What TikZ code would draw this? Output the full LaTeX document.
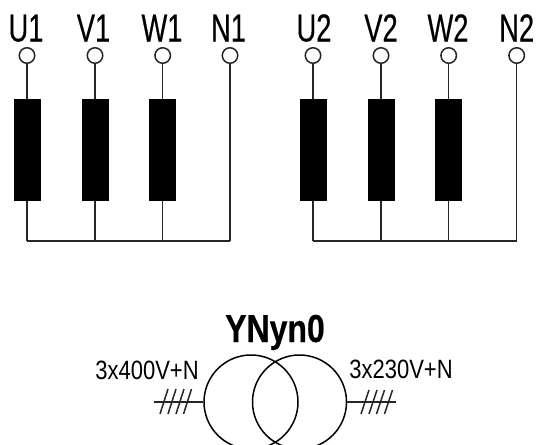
\documentclass[tikz,border=0pt]{standalone}
\usepackage{fontspec}
\setmainfont{Liberation Sans}
\newfontfamily\termfont{Liberation Sans}[FakeStretch=0.7,FakeBold=0.4]
\newfontfamily\ratefont{Liberation Sans}[FakeStretch=0.83]
\newfontfamily\titlefont{Liberation Sans Bold}[FakeStretch=0.82,FakeBold=0.5]
\begin{document}
\begin{tikzpicture}[x=1pt,y=-1pt,
  wire/.style={draw=black!85,line width=1.5pt},
  terminal/.style={circle,draw=black!85,fill=white,line width=1.5pt,minimum size=15.5pt,inner sep=0pt},
  winding/.style={rectangle,fill=black,minimum width=27pt,minimum height=101.5pt,inner sep=0pt},
  termlabel/.style={font=\fontsize{39}{39}\termfont,inner sep=0pt,anchor=base},
  ratelabel/.style={font=\fontsize{26.5}{26.5}\ratefont,inner sep=0pt,anchor=base},
  titlelabel/.style={font=\fontsize{39}{39}\titlefont,inner sep=0pt,anchor=base}]
\useasboundingbox (0,0) rectangle (539,445);
\foreach \n/\x/\lx/\lab in {a/27/26/U1,b/95/93.5/V1,c/162.7/162/W1,d/230/228.5/N1,e/313/314/U2,f/381/381/V2,g/448.7/448/W2,h/516.7/516.7/N2}{
  \node[terminal] (t\n) at (\x,55.5) {};
  \node[termlabel] (l\n) at (\lx,41.5) {\lab};
  \coordinate (bus\n) at (\x,241);
}
\foreach \n/\x in {a/27,b/95,c/162.7,e/313,f/381,g/448.7}{
  \node[winding] (w\n) at (\x,149.75) {};
  \draw[wire] (t\n) -- (w\n);
  \draw[wire] (w\n) -- (bus\n);
}
\draw[wire] (td) -- (busd);
\draw[wire] (th) -- (bush);
\draw[wire,line cap=square] (busa) -- (busd);
\draw[wire,line cap=square] (buse) -- (bush);
% Symbol
\node[titlelabel] (title) at (275,342) {YNyn0};
\node[circle,draw=black,line width=1.5pt,minimum size=94pt,inner sep=0pt] (c1) at (251,402) {};
\node[circle,draw=black,line width=1.5pt,minimum size=94pt,inner sep=0pt] (c2) at (299.5,402) {};
\node[ratelabel] (r1) at (147,379) {3x400V+N};
\node[ratelabel] (r2) at (401,378) {3x230V+N};
\coordinate (s1) at (154,402);
\coordinate (s2) at (396,402);
\draw[wire] (s1) -- (c1.west);
\draw[wire] (c2.east) -- (s2);
\foreach \x in {164,172,180,187.5}{
  \draw[wire] (\x-4,414) -- (\x+4,389);
}
\foreach \x in {365,373,380.5,388.5}{
  \draw[wire] (\x-4,414) -- (\x+4,390);
}
\end{tikzpicture}
\end{document}
